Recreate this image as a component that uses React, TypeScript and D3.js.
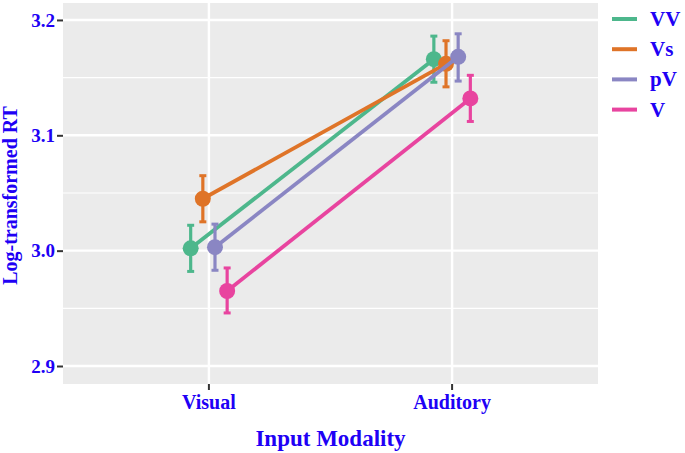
import React, { useEffect, useRef } from 'react';
import * as d3 from 'd3';

// data
const modalities = ['Visual', 'Auditory'];
const groups = ['VV', 'Vs', 'pV', 'V'];
const groupColors = ['#4db78c', '#df7428', '#8a86c3', '#e8449f'];
const means = {
  VV: [3.002, 3.166],
  Vs: [3.045, 3.162],
  pV: [3.003, 3.168],
  V: [2.965, 3.132],
};
const lower = {
  VV: [2.982, 3.146],
  Vs: [3.025, 3.142],
  pV: [2.983, 3.147],
  V: [2.946, 3.112],
};
const upper = {
  VV: [3.022, 3.186],
  Vs: [3.065, 3.182],
  pV: [3.023, 3.188],
  V: [2.985, 3.152],
};
const yTicks = [2.9, 3.0, 3.1, 3.2];
const yMinor = [2.95, 3.05, 3.15];

const W = 685;
const H = 453;
const blue = '#2000f5';
const font = '"Liberation Serif", "Times New Roman", serif';

export default function App() {
  const svgRef = useRef<SVGSVGElement | null>(null);

  useEffect(() => {
    const svg = d3.select(svgRef.current);
    svg.selectAll('*').remove();

    const panel = { left: 63, right: 598, top: 3, bottom: 384 };

    // discrete x with ggplot-like expansion of 0.6
    const x = d3.scaleLinear().domain([0.4, 2.6]).range([panel.left, panel.right]);
    const y = d3.scaleLinear().domain([2.8844, 3.2147]).range([panel.bottom, panel.top]);
    const dodge = 0.2;
    const offset = (gi: number) => -dodge / 2 + (dodge / groups.length) * (gi + 0.5);

    svg.append('rect')
      .attr('x', panel.left)
      .attr('y', panel.top)
      .attr('width', panel.right - panel.left)
      .attr('height', panel.bottom - panel.top)
      .attr('fill', '#ebebeb');

    // grid
    svg.append('g').selectAll('line')
      .data(yMinor)
      .join('line')
      .attr('x1', panel.left).attr('x2', panel.right)
      .attr('y1', d => y(d)).attr('y2', d => y(d))
      .attr('stroke', '#fff').attr('stroke-width', 1.2);
    svg.append('g').selectAll('line')
      .data(yTicks)
      .join('line')
      .attr('x1', panel.left).attr('x2', panel.right)
      .attr('y1', d => y(d)).attr('y2', d => y(d))
      .attr('stroke', '#fff').attr('stroke-width', 2.4);
    svg.append('g').selectAll('line')
      .data(modalities)
      .join('line')
      .attr('x1', (_, i) => x(i + 1)).attr('x2', (_, i) => x(i + 1))
      .attr('y1', panel.top).attr('y2', panel.bottom)
      .attr('stroke', '#fff').attr('stroke-width', 2.4);

    // y axis
    const yAxis = svg.append('g')
      .attr('transform', `translate(${panel.left},0)`)
      .call(d3.axisLeft(y).tickValues(yTicks).tickFormat(d3.format('.1f')).tickSize(6).tickPadding(2));
    yAxis.select('.domain').remove();
    yAxis.selectAll('.tick line').attr('stroke', '#333').attr('stroke-width', 2);
    yAxis.selectAll('text')
      .attr('fill', blue)
      .style('font-family', font)
      .style('font-weight', 'bold')
      .style('font-size', '19px');

    // x axis
    const xAxis = svg.append('g').attr('transform', `translate(0,${panel.bottom})`);
    modalities.forEach((m, i) => {
      xAxis.append('line')
        .attr('x1', x(i + 1)).attr('x2', x(i + 1))
        .attr('y1', 0).attr('y2', 6)
        .attr('stroke', '#333').attr('stroke-width', 2);
      xAxis.append('text')
        .attr('x', x(i + 1))
        .attr('y', 25)
        .attr('text-anchor', 'middle')
        .attr('fill', blue)
        .style('font-family', font)
        .style('font-weight', 'bold')
        .style('font-size', '20px')
        .text(m);
    });

    svg.append('text')
      .attr('x', (panel.left + panel.right) / 2)
      .attr('y', 446)
      .attr('text-anchor', 'middle')
      .attr('fill', blue)
      .style('font-family', font)
      .style('font-weight', 'bold')
      .style('font-size', '23px')
      .text('Input Modality');

    svg.append('text')
      .attr('transform', `translate(17,${(panel.top + panel.bottom) / 2 + 2}) rotate(-90)`)
      .attr('text-anchor', 'middle')
      .attr('fill', blue)
      .style('font-family', font)
      .style('font-weight', 'bold')
      .style('font-size', '20px')
      .text('Log-transformed RT');

    // series
    groups.forEach((g, gi) => {
      const color = groupColors[gi];
      const pts = modalities.map((_, i) => ({
        x: x(i + 1 + offset(gi)),
        m: means[g][i],
        lo: lower[g][i],
        hi: upper[g][i],
      }));
      const layer = svg.append('g');
      layer.append('path')
        .datum(pts)
        .attr('fill', 'none')
        .attr('stroke', color)
        .attr('stroke-width', 3.8)
        .attr('d', d3.line<any>().x(d => d.x).y(d => y(d.m)));
      pts.forEach(p => {
        layer.append('line')
          .attr('x1', p.x).attr('x2', p.x)
          .attr('y1', y(p.lo)).attr('y2', y(p.hi))
          .attr('stroke', color).attr('stroke-width', 3.2);
        [p.lo, p.hi].forEach(v => {
          layer.append('line')
            .attr('x1', p.x - 3.5).attr('x2', p.x + 3.5)
            .attr('y1', y(v)).attr('y2', y(v))
            .attr('stroke', color).attr('stroke-width', 3);
        });
        layer.append('circle')
          .attr('cx', p.x).attr('cy', y(p.m))
          .attr('r', 8)
          .attr('fill', color);
      });
    });

    // legend
    const legend = svg.append('g').attr('transform', 'translate(612,19)');
    groups.forEach((g, gi) => {
      const row = legend.append('g').attr('transform', `translate(0,${gi * 30.2})`);
      row.append('line')
        .attr('x1', 0).attr('x2', 25)
        .attr('stroke', groupColors[gi])
        .attr('stroke-width', 4);
      row.append('text')
        .attr('x', 38)
        .attr('y', 7)
        .attr('fill', blue)
        .style('font-family', font)
        .style('font-weight', 'bold')
        .style('font-size', '21px')
        .text(g);
    });
  }, []);

  return (
    <svg
      ref={svgRef}
      width={W}
      height={H}
      style={{ position: 'absolute', left: 0, top: 0, background: '#fff' }}
    />
  );
}
